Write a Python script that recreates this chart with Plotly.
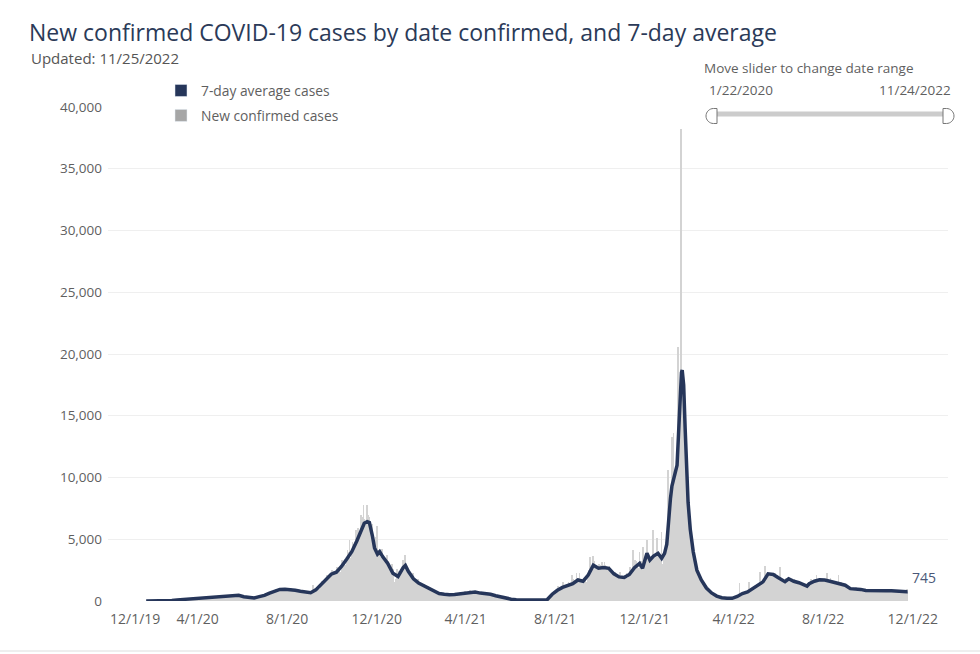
import pandas as pd
import plotly.graph_objects as go

# ---------------- data ----------------
start_date = "2020-01-22"
end_label_value = 745

# daily new confirmed cases, 1/22/2020 .. 11/24/2022 (one row per week)
new_cases = [
    0, 0, 0, 0, 0, 0, 0,
    0, 0, 0, 0, 0, 0, 0,
    0, 0, 5, 10, 5, 10, 5,
    5, 10, 15, 20, 10, 15, 10,
    20, 30, 40, 35, 30, 25, 30,
    50, 70, 80, 60, 55, 50, 60,
    80, 110, 120, 100, 105, 90, 95,
    110, 150, 140, 135, 130, 120, 125,
    140, 180, 175, 165, 160, 145, 150,
    170, 230, 215, 205, 200, 185, 190,
    210, 270, 260, 245, 235, 220, 240,
    230, 290, 285, 270, 255, 245, 260,
    250, 320, 310, 300, 285, 270, 290,
    280, 360, 340, 330, 315, 300, 315,
    310, 400, 380, 365, 350, 330, 350,
    340, 440, 420, 400, 385, 365, 380,
    370, 480, 455, 440, 420, 400, 415,
    390, 500, 480, 460, 440, 420, 430,
    380, 490, 470, 450, 420, 390, 410,
    280, 360, 340, 330, 310, 300, 320,
    220, 290, 280, 260, 250, 230, 255,
    230, 300, 290, 280, 260, 250, 280,
    320, 420, 410, 390, 370, 360, 390,
    420, 560, 540, 520, 490, 470, 500,
    580, 760, 730, 700, 670, 640, 680,
    740, 950, 910, 880, 840, 800, 830,
    820, 1050, 1020, 980, 930, 900, 920,
    830, 1060, 1030, 990, 940, 910, 930,
    800, 1030, 990, 950, 910, 870, 890,
    740, 950, 920, 880, 840, 800, 820,
    670, 860, 830, 800, 760, 730, 740,
    610, 790, 760, 730, 700, 660, 680,
    620, 810, 800, 1300, 730, 700, 760,
    900, 1150, 1100, 1050, 1000, 950, 1000,
    1250, 1650, 1580, 1500, 1420, 1330, 1420,
    1640, 2120, 2050, 1950, 1850, 1740, 1810,
    1950, 2500, 2420, 2300, 2180, 2050, 2140,
    2150, 2780, 2700, 2550, 2420, 2280, 2340,
    2600, 3350, 3250, 3100, 2920, 2760, 2880,
    3300, 4100, 3950, 3750, 4940, 3400, 3500,
    3700, 4800, 4600, 4400, 4200, 3900, 5750,
    4500, 5900, 5600, 5400, 5100, 4800, 6960,
    5600, 6800, 7770, 6600, 6300, 5900, 6200,
    7770, 7000, 6800, 6500, 6300, 5800, 6000,
    6200, 2600, 4800, 4000, 3600, 5200, 6100,
    4400, 4100, 3800, 3600, 3300, 3500, 4200,
    3900, 3700, 3400, 3200, 3000, 3300, 3700,
    3200, 3100, 2800, 2600, 2500, 2700, 3000,
    2600, 2400, 1500, 1300, 1800, 2100, 2600,
    1800, 2400, 1300, 1900, 2400, 2700, 3100,
    3300, 3000, 3720, 2800, 2600, 2500, 2400,
    2500, 2400, 2200, 2100, 2000, 2200, 2300,
    2000, 1900, 1800, 1700, 1650, 1750, 1800,
    1600, 1500, 1400, 1350, 1300, 1350, 1400,
    1400, 1300, 1200, 1150, 1100, 1150, 1200,
    1150, 1100, 1000, 950, 900, 950, 1000,
    900, 850, 780, 740, 700, 730, 760,
    700, 650, 600, 570, 540, 560, 580,
    620, 590, 540, 510, 490, 510, 530,
    580, 540, 500, 470, 450, 480, 500,
    620, 580, 540, 510, 490, 520, 540,
    690, 650, 600, 570, 540, 570, 590,
    780, 730, 680, 650, 620, 650, 670,
    860, 810, 750, 710, 680, 710, 730,
    800, 760, 700, 670, 640, 670, 690,
    720, 690, 630, 600, 570, 600, 620,
    680, 640, 590, 560, 530, 560, 580,
    610, 580, 530, 500, 480, 500, 520,
    470, 450, 410, 390, 370, 390, 400,
    350, 330, 300, 280, 270, 280, 290,
    230, 220, 200, 190, 180, 190, 200,
    160, 150, 140, 130, 125, 130, 140,
    115, 110, 100, 95, 90, 95, 100,
    90, 85, 80, 75, 70, 75, 80,
    90, 85, 80, 75, 70, 75, 80,
    90, 85, 80, 75, 70, 75, 80,
    95, 90, 85, 80, 75, 85, 90,
    120, 110, 100, 100, 110, 120, 130,
    200, 260, 300, 330, 360, 400, 450,
    550, 620, 680, 720, 750, 780, 800,
    900, 1200, 1100, 1000, 950, 900, 1000,
    1050, 1560, 1250, 1150, 1100, 1050, 1100,
    1200, 1500, 1400, 1350, 1250, 1200, 2100,
    1400, 1800, 1700, 1600, 1500, 2240, 1450,
    1550, 1900, 2240, 1700, 1600, 1500, 1550,
    1500, 1900, 1800, 1700, 1500, 1300, 1400,
    2000, 2500, 3590, 2600, 2700, 2800, 2900,
    3640, 3200, 2900, 2700, 2600, 2500, 2700,
    2400, 3000, 2900, 2700, 2600, 3180, 2500,
    2600, 3150, 2900, 2800, 2700, 2500, 2600,
    2300, 2800, 2700, 2500, 2400, 2200, 2300,
    1900, 2350, 2250, 2100, 2000, 1850, 1900,
    1800, 2370, 2100, 2000, 1900, 1750, 1800,
    1800, 2100, 2050, 2270, 1900, 1800, 1850,
    2200, 2780, 2500, 2400, 2300, 4130, 2400,
    2700, 3300, 3200, 3000, 2800, 2600, 2700,
    4000, 1500, 3200, 2900, 2800, 4400, 3300,
    3300, 3600, 3800, 4940, 3700, 3400, 3300,
    3200, 3400, 3500, 3500, 5750, 3500, 3650,
    3700, 3750, 3800, 5080, 3800, 3700, 3600,
    3550, 3700, 5610, 1500, 3000, 3800, 4000,
    4200, 4800, 5200, 3000, 10600, 7600, 8400,
    8300, 9000, 13300, 9600, 13580, 10100, 10300,
    10500, 10800, 11000, 20600, 13500, 15000, 16500,
    38200, 18500, 18700, 18200, 17500, 15800, 14000,
    12400, 10800, 9400, 8000, 7000, 6300, 5800,
    5500, 5000, 4600, 4000, 3700, 3400, 3100,
    2900, 2600, 2400, 2200, 2000, 1900, 1800,
    1700, 1600, 1500, 1350, 1250, 1150, 1050,
    1000, 950, 900, 850, 780, 720, 680,
    650, 600, 560, 520, 480, 450, 430,
    410, 380, 350, 330, 310, 290, 280,
    270, 260, 250, 240, 230, 220, 220,
    220, 215, 210, 210, 215, 220, 225,
    225, 230, 240, 250, 260, 280, 300,
    320, 340, 360, 1480, 380, 400, 420,
    560, 580, 600, 620, 640, 650, 660,
    680, 700, 1560, 720, 740, 760, 800,
    950, 1000, 1050, 1100, 1150, 1200, 1250,
    1280, 1320, 1360, 2370, 1420, 1450, 1500,
    1600, 1750, 1900, 2830, 2100, 2150, 2200,
    2200, 2300, 2240, 2200, 2150, 2100, 2050,
    2050, 2000, 2240, 1950, 1920, 1900, 1880,
    1850, 1820, 2730, 1780, 1760, 1740, 1700,
    1650, 1600, 1560, 1900, 1700, 1800, 1840,
    1820, 1780, 1740, 1700, 1650, 1600, 1580,
    1560, 1800, 1520, 1500, 1480, 1460, 1440,
    1430, 1420, 1400, 1380, 1350, 700, 1250,
    1220, 1200, 1210, 1250, 1300, 1350, 1400,
    1450, 1500, 1800, 1560, 1580, 1600, 1620,
    1640, 1660, 1680, 2100, 1700, 1720, 1740,
    1750, 1900, 1760, 1750, 1740, 1730, 1720,
    1700, 1680, 1660, 2240, 1620, 1600, 1580,
    1560, 1900, 1550, 1540, 1520, 1500, 1480,
    1460, 1450, 1440, 1430, 1420, 2100, 1400,
    1390, 1550, 1350, 1300, 1260, 1230, 1210,
    1200, 1150, 1100, 1050, 1000, 500, 950,
    920, 900, 890, 900, 950, 1000, 1030,
    1030, 1150, 1000, 980, 960, 940, 920,
    900, 890, 1000, 870, 860, 850, 840,
    830, 830, 950, 820, 820, 820, 820,
    815, 815, 812, 930, 810, 810, 810,
    810, 810, 810, 812, 920, 818, 820,
    820, 822, 940, 828, 830, 830, 830,
    830, 828, 825, 920, 815, 810, 805,
    800, 795, 880, 785, 780, 775, 770,
    765, 760, 755, 850, 750, 748, 746,
    745, 744, 743, 742, 830, 743, 745,
    1000, 600,
]

# 7-day average: day offset from start_date and value
avg_offsets = [
    0, 7, 14, 21, 28, 35, 42, 49, 56, 63, 70, 77, 84, 91, 98, 105, 112, 119,
    126, 133, 140, 147, 154, 161, 168, 175, 182, 189, 196, 203, 210, 217,
    224, 231, 238, 245, 252, 259, 266, 273, 280, 287, 294, 297, 301, 304,
    308, 311, 315, 318, 322, 329, 336, 343, 350, 353, 357, 364, 371, 378,
    385, 392, 399, 406, 413, 420, 427, 434, 441, 448, 455, 462, 469, 476,
    483, 490, 497, 504, 511, 518, 525, 532, 539, 546, 553, 560, 567, 574,
    581, 588, 595, 602, 609, 616, 623, 630, 637, 644, 651, 658, 665, 672,
    676, 682, 686, 691, 697, 702, 706, 709, 711, 714, 716, 720, 723, 725,
    727, 729, 730, 732, 734, 736, 738, 741, 745, 750, 756, 763, 770, 777,
    784, 791, 798, 805, 812, 819, 826, 833, 840, 847, 854, 861, 868, 870,
    875, 882, 889, 896, 900, 903, 907, 910, 917, 924, 931, 938, 945, 952,
    959, 966, 973, 980, 987, 994, 1001, 1008, 1015, 1022, 1029, 1036, 1037,
]
avg_values = [
    0, 0, 5, 10, 20, 50, 90, 120, 150, 190, 235, 255, 280, 310, 345, 380, 420, 440,
    460, 350, 260, 240, 350, 450, 630, 820, 940, 960, 940, 870, 790, 720,
    670, 900, 1330, 1780, 2170, 2330, 2800, 3380, 3990, 4880, 5800, 6300, 6420, 6350,
    5300, 4300, 3800, 3990, 3600, 3050, 2250, 1980, 2700, 2880, 2400, 1800, 1450, 1230,
    1030, 820, 610, 550, 500, 530, 580, 660, 740, 720, 640, 600, 550, 430,
    320, 220, 150, 110, 80, 80, 80, 80, 80, 100, 550, 870, 1100, 1230,
    1400, 1700, 1600, 2100, 2900, 2650, 2720, 2650, 2200, 1950, 1900, 2150, 2700, 3050,
    2650, 3860, 3320, 3640, 3860, 3450, 3860, 4600, 6500, 8300, 9300, 10300, 11000, 13500,
    16500, 18500, 18700, 17500, 14000, 10800, 8000, 5800, 4000, 2500, 1700, 1050, 650, 400,
    270, 220, 220, 370, 600, 730, 1000, 1300, 1550, 2200, 2150, 1880, 1680, 1560,
    1800, 1600, 1480, 1350, 1210, 1400, 1560, 1600, 1720, 1700, 1600, 1500, 1430, 1280,
    1000, 980, 940, 850, 830, 815, 810, 830, 820, 770, 750, 740, 745,
]

tick_dates = ["2019-12-01", "2020-04-01", "2020-08-01", "2020-12-01", "2021-04-01",
              "2021-08-01", "2021-12-01", "2022-04-01", "2022-08-01", "2022-12-01"]
tick_labels = ["12/1/19", "4/1/20", "8/1/20", "12/1/20", "4/1/21",
               "8/1/21", "12/1/21", "4/1/22", "8/1/22", "12/1/22"]
y_ticks = [0, 5000, 10000, 15000, 20000, 25000, 30000, 35000, 40000]

# ---------------- styling ----------------
NAVY = "#26365a"
BAR_GRAY = "#d3d3d3"
SWATCH_GRAY = "#a6a6a6"
TEXT = "#5f5f5f"
FONT = "Open Sans"

W, H = 980, 654
ML, MR, MT, MB = 108, 32, 107, 53
PW, PH = W - ML - MR, H - MT - MB


def px(x):
    return (x - ML) / PW


def py(y):
    return (H - MB - y) / PH


def path(points_cmds):
    out = []
    for cmd, pts in points_cmds:
        coords = " ".join(f"{px(a):.5f},{py(b):.5f}" for a, b in pts)
        out.append(f"{cmd} {coords}" if pts else cmd)
    return " ".join(out)


dates = pd.date_range(start_date, periods=len(new_cases), freq="D")
avg_dates = pd.to_datetime(start_date) + pd.to_timedelta(avg_offsets, unit="D")

fig = go.Figure()
fig.add_trace(go.Bar(x=dates, y=new_cases, name="New confirmed cases",
                     marker=dict(color=BAR_GRAY, line=dict(width=0)),
                     showlegend=False))
fig.add_trace(go.Scatter(x=avg_dates, y=avg_values, mode="lines",
                         name="7-day average cases",
                         line=dict(color=NAVY, width=3.5),
                         showlegend=False))
# legend swatches
fig.add_trace(go.Bar(x=[None], y=[None], name="7-day average cases",
                     marker_color=NAVY, legendgroup="a"))
fig.add_trace(go.Bar(x=[None], y=[None], name="New confirmed cases",
                     marker_color=SWATCH_GRAY, legendgroup="b"))

shapes = [
    # slider track
    dict(type="rect", xref="paper", yref="paper", x0=px(716), x1=px(944),
         y0=py(116.5), y1=py(111.5), fillcolor="#cccccc", line=dict(width=0)),
    # left handle
    dict(type="path", xref="paper", yref="paper",
         path=path([("M", [(717, 108.5)]), ("L", [(713.5, 108.5)]),
                    ("C", [(709.4, 108.5), (706, 111.9), (706, 116)]),
                    ("C", [(706, 120.1), (709.4, 123.5), (713.5, 123.5)]),
                    ("L", [(717, 123.5)]), ("Z", [])]),
         fillcolor="white", line=dict(color="#777777", width=1)),
    # right handle
    dict(type="path", xref="paper", yref="paper",
         path=path([("M", [(943, 108.5)]), ("L", [(946.5, 108.5)]),
                    ("C", [(950.6, 108.5), (954, 111.9), (954, 116)]),
                    ("C", [(954, 120.1), (950.6, 123.5), (946.5, 123.5)]),
                    ("L", [(943, 123.5)]), ("Z", [])]),
         fillcolor="white", line=dict(color="#777777", width=1)),
    # bottom border
    dict(type="line", xref="paper", yref="paper", x0=px(0), x1=px(980),
         y0=py(651), y1=py(651), line=dict(color="#eeeeee", width=2)),
]

annotations = [
    dict(text="Updated: 11/25/2022", x=px(29), y=py(58), xref="paper", yref="paper",
         xanchor="left", yanchor="middle", showarrow=False,
         font=dict(family=FONT, size=15, color="#555555")),
    dict(text="Move slider to change date range", x=px(702), y=py(68),
         xref="paper", yref="paper", xanchor="left", yanchor="middle",
         showarrow=False, font=dict(family=FONT, size=13.5, color=TEXT)),
    dict(text="1/22/2020", x=px(707), y=py(90), xref="paper", yref="paper",
         xanchor="left", yanchor="middle", showarrow=False,
         font=dict(family=FONT, size=13.5, color=TEXT)),
    dict(text="11/24/2022", x=px(953), y=py(90), xref="paper", yref="paper",
         xanchor="right", yanchor="middle", showarrow=False,
         font=dict(family=FONT, size=13.5, color=TEXT)),
    # first x tick label kept inside the plot edge
    dict(text=tick_labels[0], x=tick_dates[0], y=py(618), xref="x", yref="paper",
         xanchor="left", yanchor="middle", showarrow=False,
         font=dict(family=FONT, size=14, color=TEXT)),
    # last value label
    dict(text=f"{end_label_value}", x=dates[-1], y=end_label_value, xref="x", yref="y",
         xanchor="left", yanchor="bottom", xshift=2, yshift=3, showarrow=False,
         font=dict(family=FONT, size=14, color="#4b5878")),
]

fig.update_layout(
    width=W, height=H,
    margin=dict(l=ML, r=MR, t=MT, b=MB),
    paper_bgcolor="white", plot_bgcolor="white",
    barmode="overlay", bargap=0,
    font=dict(family=FONT, size=13, color=TEXT),
    title=dict(text="New confirmed COVID-19 cases by date confirmed, and 7-day average",
               x=29 / W, xanchor="left", xref="container",
               y=1 - 33 / H, yanchor="middle", yref="container",
               font=dict(family=FONT, size=23, color="#2b3a58")),
    legend=dict(x=px(161), y=py(75), xanchor="left", yanchor="top",
                bgcolor="rgba(0,0,0,0)", borderwidth=0,
                traceorder="grouped", tracegroupgap=4,
                font=dict(family=FONT, size=13.8, color=TEXT)),
    shapes=shapes,
    annotations=annotations,
    showlegend=True,
)
fig.update_xaxes(type="date", range=["2019-12-01", "2023-01-18"],
                 tickvals=tick_dates, ticktext=[""] + tick_labels[1:],
                 showgrid=False, zeroline=False, showline=False, ticks="",
                 ticklabelstandoff=8,
                 tickfont=dict(family=FONT, size=14, color=TEXT))
fig.update_yaxes(range=[0, 40000], tickvals=y_ticks, tickformat=",",
                 showgrid=True, gridcolor="#efefef", gridwidth=1,
                 zeroline=False, showline=False, ticks="",
                 ticklabelstandoff=5,
                 tickfont=dict(family=FONT, size=13.5, color=TEXT))

fig.write_html("out.html", config={"displayModeBar": False},
               post_script="document.body.style.margin='0';")
